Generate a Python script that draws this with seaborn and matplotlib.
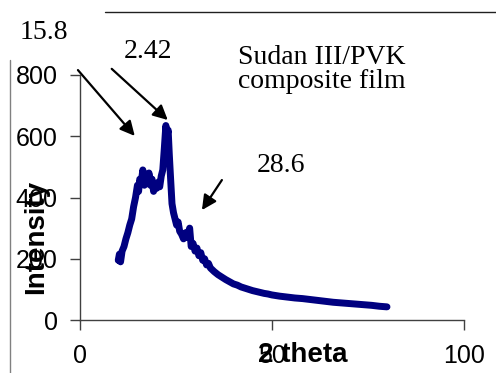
import numpy as np
import pandas as pd
import matplotlib
matplotlib.use("Agg")
import matplotlib.pyplot as plt
import seaborn as sns
from matplotlib.lines import Line2D

# XRD pattern of the Sudan III/PVK composite film
two_theta = [10.0, 10.3, 10.6, 11.0, 11.5, 12.0, 12.5, 13.0, 13.5, 14.0,
             14.5, 15.0, 15.3, 15.6, 16.0, 16.4, 16.8, 17.2, 17.6, 18.0,
             18.4, 18.8, 19.2, 19.6, 20.0, 20.4, 20.8, 21.2, 21.6, 22.0,
             22.4, 22.7, 23.0, 23.3, 23.6, 24.0, 24.4, 24.8, 25.2, 25.6,
             26.0, 26.5, 27.0, 27.5, 28.0, 28.6, 29.0, 29.5, 30.0, 30.5,
             31.0, 31.5, 32.0, 32.5, 33.0, 33.5, 34.0, 35.0, 36.0, 37.0,
             38.0, 39.0, 40.0, 41.0, 42.0, 43.0, 44.0, 45.0, 46.0, 47.0,
             48.0, 49.0, 50.0, 52.0, 54.0, 56.0, 58.0, 60.0, 62.0, 64.0,
             66.0, 68.0, 70.0, 72.0, 74.0, 76.0, 78.0, 80.0]
intensity = [195, 215, 190, 225, 240, 265, 285, 310, 330, 370,
             400, 440, 420, 460, 450, 490, 440, 475, 445, 480,
             440, 460, 420, 445, 430, 450, 435, 470, 490, 560,
             635, 600, 620, 540, 470, 380, 350, 330, 310, 320,
             290, 280, 265, 285, 270, 300, 240, 250, 225, 235,
             210, 220, 195, 200, 180, 185, 170, 158, 148, 140,
             132, 125, 118, 114, 108, 104, 100, 96, 93, 90,
             87, 85, 82, 78, 75, 72, 70, 67, 64, 61,
             58, 56, 54, 52, 50, 48, 45, 43]

peak_labels = ["15.8", "2.42", "28.6"]
sample_name = "Sudan III/PVK\ncomposite film"

df = pd.DataFrame({"2 theta": two_theta, "Intensity": intensity})

sns.set_style("ticks")
plt.rcParams["font.family"] = ["Liberation Sans", "DejaVu Sans"]

fig = plt.figure(figsize=(4.96, 3.73), dpi=100)
ax = fig.add_axes([0.161, 0.142, 0.774, 0.657])

sns.lineplot(data=df, x="2 theta", y="Intensity", color="#000080", lw=5, ax=ax)

ax.set_xlim(0, 100)
ax.set_ylim(0, 800)
ax.set_xticks([0, 50, 100])
ax.set_yticks([0, 200, 400, 600, 800])
sns.despine(ax=ax)
for s in ["left", "bottom"]:
    ax.spines[s].set_color("#404040")
    ax.spines[s].set_linewidth(1.0)
ax.tick_params(axis="both", direction="out", length=7, width=1, color="#404040",
               labelsize=18, labelcolor="black")
ax.tick_params(axis="y", pad=9)
ax.tick_params(axis="x", pad=10)

ax.set_xlabel("2 theta", fontsize=20, fontweight="bold", color="black")
ax.set_ylabel("Intensity", fontsize=20, fontweight="bold", color="black")
ax.xaxis.set_label_coords(0.58, -0.09)
ax.yaxis.set_label_coords(-0.08, 0.34)

# annotations
serif = ["Liberation Serif", "DejaVu Serif"]
ax.text(-9.4, 940, peak_labels[0], family=serif, fontsize=20, color="black",
        ha="center", va="center", clip_on=False)
ax.text(17.7, 875, peak_labels[1], family=serif, fontsize=20, color="black",
        ha="center", va="center", clip_on=False)
ax.text(46.1, 506, peak_labels[2], family=serif, fontsize=20, color="black",
        ha="left", va="center", clip_on=False)
ax.text(41.1, 818, sample_name, family=serif, fontsize=20, color="black",
        ha="left", va="center", linespacing=0.95, clip_on=False)

arrow = dict(arrowstyle="-|>", color="black", lw=1.6, mutation_scale=22, shrinkA=0, shrinkB=0)
ax.annotate("", xy=(14.3, 601), xytext=(-0.5, 816), arrowprops=arrow, annotation_clip=False)
ax.annotate("", xy=(22.9, 653), xytext=(8.3, 820), arrowprops=arrow, annotation_clip=False)
ax.annotate("", xy=(31.8, 359), xytext=(37.0, 457), arrowprops=arrow, annotation_clip=False)

# frame remnants around the figure
fig.add_artist(Line2D([105 / 496, 1.0], [1 - 12 / 373, 1 - 12 / 373], color="#202020", lw=1.0))
fig.add_artist(Line2D([10 / 496, 10 / 496], [0, 1 - 60 / 373], color="#808080", lw=1.0))

fig.savefig("out.png", dpi=100)
